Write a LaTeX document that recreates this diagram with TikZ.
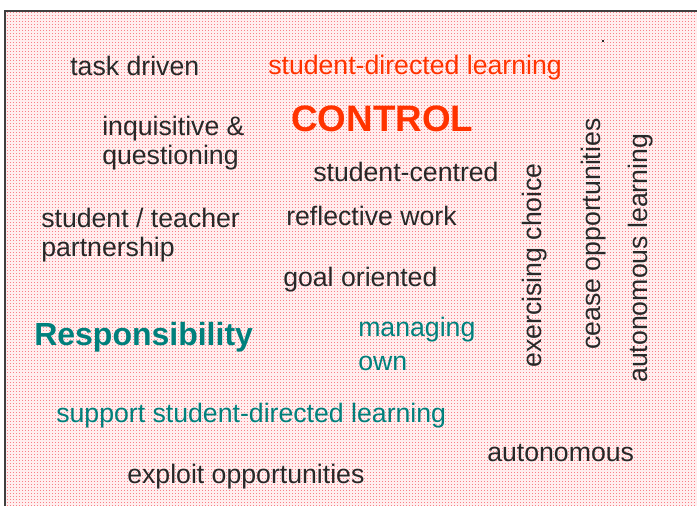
\documentclass[tikz,border=0pt]{standalone}
\usepackage{fontspec}
\setmainfont{Liberation Sans}
\definecolor{ctrlred}{RGB}{255,51,0}
\definecolor{respteal}{RGB}{0,128,124}
\definecolor{wordgray}{RGB}{40,40,40}
\definecolor{paperpink}{RGB}{255,238,238}
\definecolor{dotpink}{RGB}{248,128,136}
\begin{document}
\begin{tikzpicture}[x=0.75pt, y=-0.75pt]
% word cloud styles
\tikzstyle{word} = [anchor=base west, inner sep=0pt, text=wordgray, font=\fontsize{20}{21.75}\selectfont, align=left]
\tikzstyle{upword} = [word, anchor=base west, rotate=90]
\tikzstyle{tealword} = [word, text=respteal]

\useasboundingbox (0,0) rectangle (697,506);

% paper with dotted texture
\fill[white] (0,0) rectangle (697,506);
\fill[paperpink] (5,11) rectangle (697,506);
\foreach \y in {13,16,...,505} {
    \draw[dotpink, line width=0.75pt, dash pattern=on 0.75pt off 1.5pt] (7,\y) -- (697,\y);
}
\draw[black!75, line width=1.5pt] (5,506) -- (5,11) -- (697,11);
\fill[wordgray] (602,40) rectangle (604,42);

% control side
\node[word] (task) at (70,76) {task driven};
\node[word, text=ctrlred] (sdl) at (268,75) {student-directed learning};
\node[word, text=ctrlred, font=\fontsize{27.6}{30}\selectfont\bfseries] (control) at (291,132) {CONTROL};
\node[word] (inquis) at (102,165) {inquisitive \&\\questioning};
\node[word] (centred) at (313,182) {student-centred};
\node[word] (partner) at (41,257) {student / teacher\\partnership};
\node[word] (reflect) at (286,226) {reflective work};
\node[word] (goal) at (283,287) {goal oriented};

% vertical words
\node[upword] (choice) at (541,368) {exercising choice};
\node[upword] (cease) at (600,350) {cease opportunities};
\node[upword] (autolearn) at (647,383) {autonomous learning};

% responsibility side
\node[tealword, font=\fontsize{24}{26}\selectfont\bfseries] (resp) at (34,345) {Responsibility};
\node[tealword, font=\fontsize{20}{24.75}\selectfont] (manage) at (358,370) {managing\\own};
\node[tealword] (support) at (56,422) {support student-directed learning};
\node[word] (auto) at (487,461) {autonomous};
\node[word] (exploit) at (127,483) {exploit opportunities};
\end{tikzpicture}
\end{document}
